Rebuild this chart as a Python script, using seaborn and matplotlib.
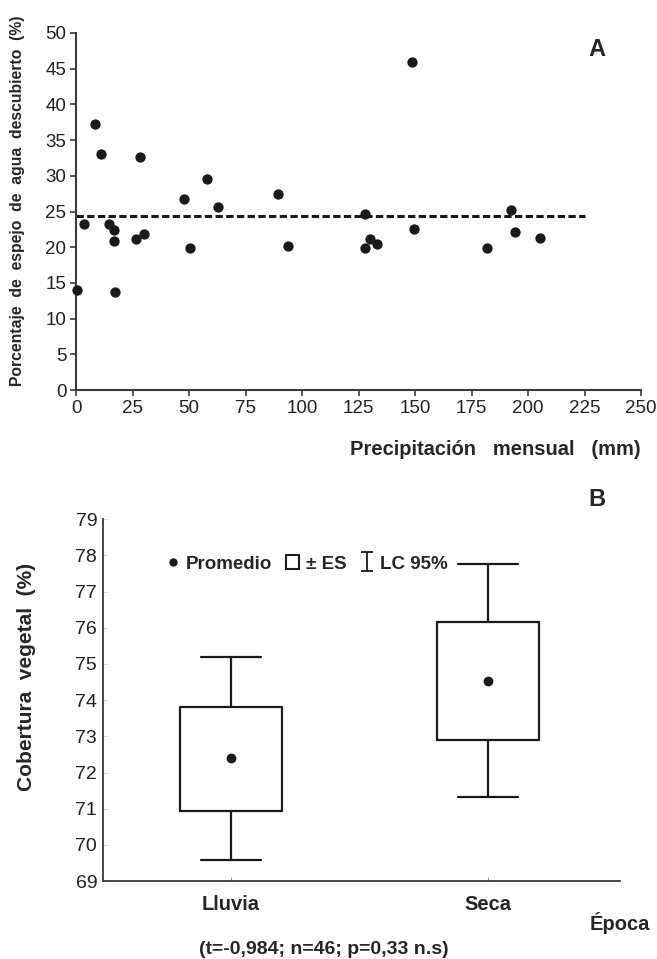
import numpy as np
import pandas as pd
import seaborn as sns
import matplotlib.pyplot as plt
from matplotlib.patches import Rectangle
from matplotlib.lines import Line2D

# --- Panel A: monthly rainfall vs. uncovered water surface ---
precip_mm = [0.3, 3.4, 8.4, 11.2, 14.6, 16.8, 16.7, 17.1, 26.4, 28.2, 30.1,
             47.8, 50.4, 57.8, 62.7, 89.2, 93.8, 128.0, 128.0, 130.1, 133.0,
             148.8, 149.4, 182.0, 192.6, 194.2, 205.5]
water_pct = [14.0, 23.3, 37.2, 33.1, 23.3, 22.4, 20.9, 13.7, 21.1, 32.7, 21.9,
             26.8, 19.9, 29.6, 25.7, 27.5, 20.1, 24.7, 19.9, 21.1, 20.5,
             45.9, 22.6, 19.9, 25.2, 22.1, 21.3]
mean_line_x = [0, 225]
x_ticks_a = [0, 25, 50, 75, 100, 125, 150, 175, 200, 225, 250]
y_ticks_a = [0, 5, 10, 15, 20, 25, 30, 35, 40, 45, 50]

# --- Panel B: vegetation cover by season ---
seasons = ['Lluvia', 'Seca']
cover_mean = [72.4, 74.52]
cover_se_low = [70.94, 72.9]
cover_se_high = [73.82, 76.17]
cover_ci_low = [69.57, 71.32]
cover_ci_high = [75.2, 77.77]
y_ticks_b = [69, 70, 71, 72, 73, 74, 75, 76, 77, 78, 79]

sns.set_style('ticks')
plt.rcParams['font.family'] = ['Liberation Sans', 'DejaVu Sans']

ink = '#1a1a1a'
spine = '#3a3a3a'

fig = plt.figure(figsize=(6.57, 9.59), dpi=100)

# --- Panel A ---
ax1 = fig.add_axes([0.1157, 0.5933, 0.86, 0.3723])
df_a = pd.DataFrame({'precip': precip_mm, 'water': water_pct})
sns.scatterplot(data=df_a, x='precip', y='water', ax=ax1, color=ink, s=55,
                edgecolor=ink, linewidth=0, clip_on=False, zorder=3)
mean_water = np.mean(water_pct)
sns.lineplot(x=mean_line_x, y=[mean_water, mean_water], ax=ax1, color=ink,
             linewidth=2.2, linestyle=(0, (2.4, 1.1)), zorder=2)
ax1.set_xlim(0, 250)
ax1.set_ylim(0, 50)
ax1.set_xticks(x_ticks_a)
ax1.set_yticks(y_ticks_a)
ax1.tick_params(labelsize=13.5, length=4, width=1.2, color=spine, labelcolor='#222222', pad=3)
for side in ['top', 'right']:
    ax1.spines[side].set_visible(False)
for side in ['left', 'bottom']:
    ax1.spines[side].set_color(spine)
    ax1.spines[side].set_linewidth(1.5)
ax1.set_ylabel('Porcentaje  de  espejo  de  agua  descubierto  (%)',
               fontsize=11.3, fontweight='bold')
ax1.yaxis.set_label_coords(-0.09, 0.53)
ax1.set_xlabel('Precipitación   mensual   (mm)', fontsize=14.5, fontweight='bold', ha='right')
ax1.xaxis.set_label_coords(1.0, -0.14)
ax1.text(0.922, 0.955, 'A', transform=ax1.transAxes, fontsize=17, fontweight='bold',
         ha='center', va='center')

# --- Panel B ---
ax2 = fig.add_axes([0.1563, 0.0813, 0.7874, 0.3772])
positions = np.arange(len(seasons))
stats = []
for i in range(len(seasons)):
    stats.append({'med': cover_mean[i], 'q1': cover_se_low[i], 'q3': cover_se_high[i],
                  'whislo': cover_ci_low[i], 'whishi': cover_ci_high[i],
                  'mean': cover_mean[i], 'fliers': []})
line_kw = dict(color=ink, linewidth=1.6)
ax2.bxp(stats, positions=positions, widths=0.4, capwidths=0.233, showfliers=False,
        boxprops=line_kw, whiskerprops=line_kw, capprops=line_kw,
        medianprops=dict(visible=False), manage_ticks=False)
sns.scatterplot(x=positions, y=cover_mean, ax=ax2, color=ink, s=50, linewidth=0, zorder=3)

ax2.set_xlim(-0.5, 1.514)
ax2.set_ylim(69, 79)
ax2.set_yticks(y_ticks_b)
ax2.set_xticks(positions)
ax2.set_xticklabels(seasons, fontsize=14.5, fontweight='bold')
ax2.tick_params(axis='y', labelsize=14, direction='in', length=3, width=0.8,
                color='#cccccc', labelcolor='#222222', pad=4)
ax2.tick_params(axis='x', direction='in', length=3, width=0.8, color='#999999', pad=10)
for side in ['top', 'right']:
    ax2.spines[side].set_visible(False)
for side in ['left', 'bottom']:
    ax2.spines[side].set_color(spine)
    ax2.spines[side].set_linewidth(1.3)
ax2.set_ylabel('Cobertura  vegetal  (%)', fontsize=15, fontweight='bold')
ax2.yaxis.set_label_coords(-0.128, 0.564)
ax2.set_xlabel('')
ax2.text(0.999, -0.116, 'Época', transform=ax2.transAxes, fontsize=14.5,
         fontweight='bold', ha='center', va='center')
ax2.text(0.956, 1.055, 'B', transform=ax2.transAxes, fontsize=17, fontweight='bold',
         ha='center', va='center')

# legend: mean, +-SE box, 95% CI bar
eb = ax2.errorbar([-5], [75], yerr=[[1], [1]], fmt='none', ecolor=ink,
                  elinewidth=1.3, capsize=4, capthick=1.3)
handles = [Line2D([], [], marker='o', linestyle='none', color=ink, markersize=5),
           Rectangle((0, 0), 1, 1, fill=False, edgecolor=ink, linewidth=1.5),
           eb]
labels = ['Promedio', '± ES', 'LC 95%']
ax2.legend(handles, labels, loc='center left', bbox_to_anchor=(0.09, 0.877),
           ncol=3, frameon=False, handlelength=0.7, handleheight=0.8,
           handletextpad=0.35, columnspacing=0.75,
           prop={'size': 13.5, 'weight': 'bold'})

fig.text(324 / 657, 1 - 950 / 959, '(t=-0,984; n=46; p=0,33 n.s)', fontsize=14,
         fontweight='bold', ha='center', va='center')

fig.savefig('out.png', dpi=100)
